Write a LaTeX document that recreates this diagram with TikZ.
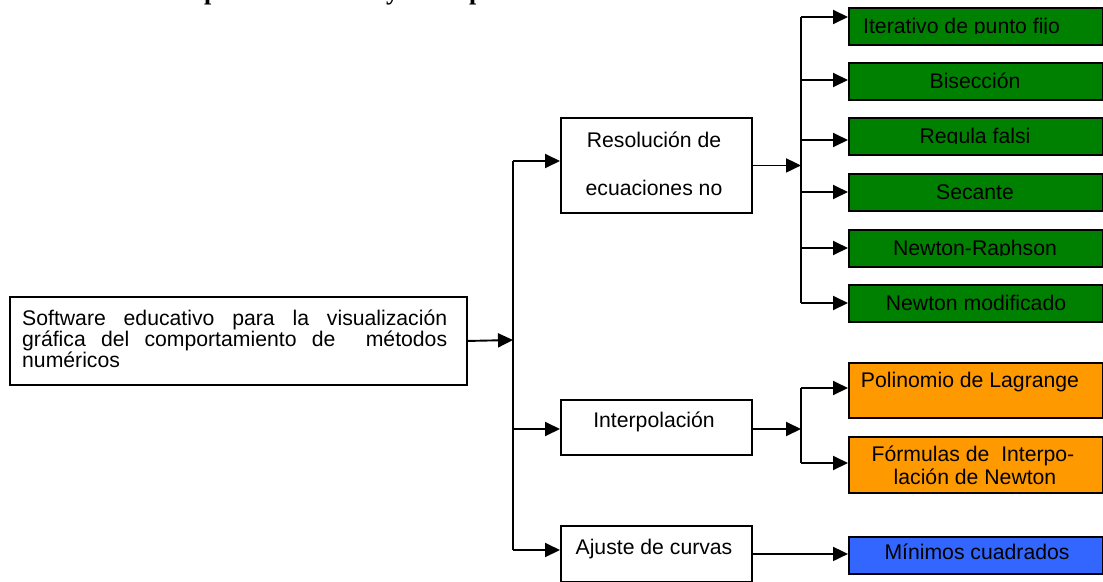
\documentclass[tikz,border=0pt]{standalone}
\usepackage{fontspec}
\setmainfont{Liberation Sans}
\newfontfamily\titlefont{Liberation Serif}
\usetikzlibrary{arrows.meta}
\definecolor{boxgreen}{RGB}{0,128,0}
\definecolor{boxorange}{RGB}{255,153,0}
\definecolor{boxblue}{RGB}{51,102,255}
\begin{document}
\begin{tikzpicture}[x=1pt,y=-1pt,
  wire/.style={line width=1.9pt},
  conn/.style={line width=1.9pt,-{Triangle[length=15pt,width=14pt]}},
  boxbase/.style={draw,line width=1.9pt,inner sep=0pt,anchor=north west},
  boxw/.style={boxbase,fill=white},
  boxg/.style={boxbase,fill=boxgreen,minimum width=254pt,minimum height=37pt},
  boxo/.style={boxbase,fill=boxorange,minimum width=254pt,minimum height=55pt},
  boxb/.style={boxbase,fill=boxblue,minimum width=254pt,minimum height=37pt},
  lbl/.style={font=\fontsize{21.2}{21}\selectfont,inner sep=0pt,anchor=base},
  ttl/.style={font=\titlefont\bfseries\fontsize{26}{26}\selectfont,inner sep=0pt,anchor=base west},
]
\useasboundingbox (0,0) rectangle (1103,581);
\fill[white] (0,0) rectangle (1103,581);

% title fragments (cut by the top edge)
\node[ttl] (tp1) at (204,-0.3) {p};
\node[ttl] (ty) at (386,-0.3) {y};
\node[ttl] (tp2) at (469,-0.3) {p};

% main box
\node[boxw,minimum width=457pt,minimum height=88pt] (main) at (9,296) {};
\node[lbl,anchor=base west] (m1) at (22,325) {\hbox to 425pt{Software\hfill educativo\hfill para\hfill la\hfill visualización}};
\node[lbl,anchor=base west] (m2) at (22,346) {\hbox to 425pt{gráfica\hfill del\hfill comportamiento\hfill de\hfill\hfill métodos}};
\node[lbl,anchor=base west] (m3) at (22,367) {numéricos};

% second level boxes
\node[boxw,minimum width=191pt,minimum height=95pt] (res) at (560,117) {};
\node[lbl] (res1) at (654,147) {Resolución de};
\node[lbl] (res2) at (654,195) {ecuaciones no};
\node[boxw,minimum width=191pt,minimum height=55pt] (int) at (560,399) {};
\node[lbl] (int1) at (654,427) {Interpolación};
\node[boxw,minimum width=191pt,minimum height=56pt] (aj) at (560,525) {};
\node[lbl] (aj1) at (654,554) {Ajuste de curvas};

% green boxes
\node[boxg] (g1) at (848,7) {};
\node[boxg] (g2) at (848,62) {};
\node[boxg] (g3) at (848,117) {};
\node[boxg] (g4) at (848,173) {};
\node[boxg] (g5) at (848,229) {};
\node[boxg] (g6) at (848,284) {};
\begin{scope}
\clip (848,0) rectangle (1103,33.6);
\node[lbl,anchor=base west] (g1t) at (863,33) {Iterativo de punto fijo};
\end{scope}
\begin{scope}
\clip (848,60) rectangle (1103,88.6);
\node[lbl] (g2t) at (975,88) {Bisección};
\end{scope}
\begin{scope}
\clip (848,115) rectangle (1103,143.6);
\node[lbl] (g3t) at (975,143) {Regula falsi};
\end{scope}
\begin{scope}
\clip (848,171) rectangle (1103,199.6);
\node[lbl] (g4t) at (975,199) {Secante};
\end{scope}
\begin{scope}
\clip (848,227) rectangle (1103,255.6);
\node[lbl] (g5t) at (975,255) {Newton-Raphson};
\end{scope}
\begin{scope}
\clip (848,282) rectangle (1103,310.6);
\node[lbl] (g6t) at (976,310) {Newton modificado};
\end{scope}

% orange boxes
\node[boxo] (o1) at (848,362) {};
\node[lbl] (o1t) at (970,387) {Polinomio de Lagrange};
\node[boxo,minimum height=56pt] (o2) at (848,436) {};
\node[lbl] (o2a) at (973,461) {Fórmulas de \ Interpo-};
\node[lbl] (o2b) at (975,484) {lación de Newton};

% blue box
\node[boxb] (mc) at (848,536) {};
\node[lbl] (mct) at (977,559) {Mínimos cuadrados};

% trunk
\coordinate (T) at (513,340);
\coordinate (T1) at (513,161);
\coordinate (T2) at (513,429);
\coordinate (T3) at (513,550);
\draw[wire] (T1) -- (T3);
\draw[conn] (main.east) -- (T);
\draw[conn] (T1) -- (T1 -| res.west);
\draw[conn] (T2) -- (T2 -| int.west);
\draw[conn] (T3) -- (T3 -| aj.west);

% resolution branches
\coordinate (R1) at (801,17);
\coordinate (R2) at (801,80);
\coordinate (R3) at (801,140);
\coordinate (R4) at (801,192);
\coordinate (R5) at (801,248);
\coordinate (R6) at (801,303);
\draw[wire] (R1) -- (R6);
\draw[conn] (res.east) -- (res.east -| R1);
\draw[conn] (R1) -- (R1 -| g1.west);
\draw[conn] (R2) -- (R2 -| g2.west);
\draw[conn] (R3) -- (R3 -| g3.west);
\draw[conn] (R4) -- (R4 -| g4.west);
\draw[conn] (R5) -- (R5 -| g5.west);
\draw[conn] (R6) -- (R6 -| g6.west);

% interpolation branches
\coordinate (I1) at (801,388);
\coordinate (I2) at (801,463);
\coordinate (I0) at (801,429);
\draw[wire] (I1) -- (I2);
\draw[conn] (int.east |- I0) -- (I0);
\draw[conn] (I1) -- (I1 -| o1.west);
\draw[conn] (I2) -- (I2 -| o2.west);

% curve fitting
\draw[conn] (aj.east) -- (aj.east -| mc.west);
\end{tikzpicture}
\end{document}
